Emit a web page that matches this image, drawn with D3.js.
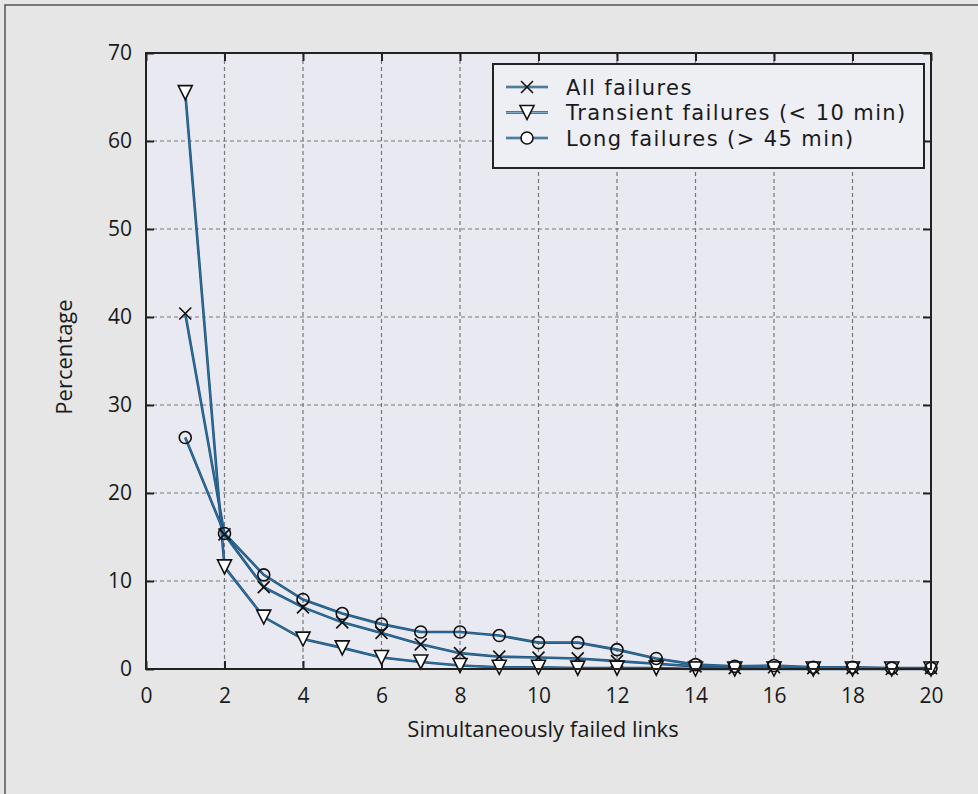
<!DOCTYPE html>
<html><head><meta charset="utf-8">
<script src="https://cdn.jsdelivr.net/npm/d3@7"></script>
<style>
html,body{margin:0;padding:0;background:#e6e6e6;}
svg{display:block;}
text{font-family:"Open Sans","Noto Sans",sans-serif;fill:#1a1a1a;}
</style></head>
<body>
<svg id="chart" width="978" height="794"></svg>
<script>
const xValues = [1,2,3,4,5,6,7,8,9,10,11,12,13,14,15,16,17,18,19,20];
const allFailures = [40.4,15.3,9.3,7.0,5.3,4.1,2.8,1.8,1.4,1.3,1.2,0.9,0.6,0.3,0.1,0.2,0.1,0.1,0.0,0.1];
const transientFailures = [65.5,11.6,5.9,3.4,2.4,1.3,0.8,0.4,0.2,0.2,0.1,0.1,0.1,0.0,0.0,0.0,0.0,0.0,0.0,0.0];
const longFailures = [26.3,15.4,10.7,7.9,6.3,5.1,4.2,4.2,3.8,3.0,3.0,2.2,1.2,0.5,0.3,0.4,0.2,0.2,0.1,0.1];
const seriesNames = ["All failures","Transient failures (< 10 min)","Long failures (> 45 min)"];
const xTicks = [0,2,4,6,8,10,12,14,16,18,20];
const yTicks = [0,10,20,30,40,50,60,70];
const xLabel = "Simultaneously failed links";
const yLabel = "Percentage";

const svg = d3.select("#chart");
const L=146, R=931, T=53, B=669;
const x = d3.scaleLinear().domain([0,20]).range([L,R]);
const y = d3.scaleLinear().domain([0,70]).range([B,T]);

// outer frame
svg.append("rect").attr("x",5).attr("y",5).attr("width",990).attr("height",800)
  .attr("fill","#e6e6e6").attr("stroke","#555").attr("stroke-width",1.5);
// plot bg
svg.append("rect").attr("x",L).attr("y",T).attr("width",R-L).attr("height",B-T).attr("fill","#e9e9f2");

// grid
const grid = svg.append("g").attr("stroke","#777").attr("stroke-width",1.2).attr("stroke-dasharray","4,3");
xTicks.filter(d=>d>0&&d<20).forEach(d=>grid.append("line").attr("x1",x(d)).attr("x2",x(d)).attr("y1",T).attr("y2",B));
yTicks.filter(d=>d>0&&d<70).forEach(d=>grid.append("line").attr("x1",L).attr("x2",R).attr("y1",y(d)).attr("y2",y(d)));

// axes
const gxB = svg.append("g").attr("transform",`translate(0,${B})`).call(d3.axisBottom(x).tickValues(xTicks).tickSizeInner(-8).tickSizeOuter(0).tickPadding(19));
const gxT = svg.append("g").attr("transform",`translate(0,${T})`).call(d3.axisTop(x).tickValues(xTicks).tickSizeInner(-8).tickSizeOuter(0).tickFormat(""));
const gyL = svg.append("g").attr("transform",`translate(${L},0)`).call(d3.axisLeft(y).tickValues(yTicks).tickSizeInner(-8).tickSizeOuter(0).tickPadding(14));
const gyR = svg.append("g").attr("transform",`translate(${R},0)`).call(d3.axisRight(y).tickValues(yTicks).tickSizeInner(-8).tickSizeOuter(0).tickFormat(""));
[gxB,gxT,gyL,gyR].forEach(g=>{
  g.attr("font-size",null).attr("font-family",null);
  g.select(".domain").remove();
  g.selectAll(".tick line").attr("stroke","#222").attr("stroke-width",2);
  g.selectAll(".tick text").style("font-size","21px").style("font-family","'Open Sans',sans-serif").attr("fill","#1a1a1a");
});

// series
const lineGen = d3.line().x((d,i)=>x(xValues[i])).y(d=>y(d));
const series = [allFailures, transientFailures, longFailures];
const lineColor = "#2f70a0";
const lines = svg.append("g");
series.forEach(s=>{
  lines.append("path").datum(s).attr("d",lineGen).attr("fill","none").attr("stroke","#1d4f74").attr("stroke-width",2.6);
  lines.append("path").datum(s).attr("d",lineGen).attr("fill","none").attr("stroke",lineColor).attr("stroke-width",1.3);
});

function marker(g, type, cx, cy){
  if(type===0){
    const s=6;
    g.append("path").attr("d",`M${cx-s},${cy-s}L${cx+s},${cy+s}M${cx-s},${cy+s}L${cx+s},${cy-s}`)
      .attr("stroke","#111").attr("stroke-width",1.6).attr("fill","none");
  } else if(type===1){
    const w=7, h=7;
    g.append("path").attr("d",`M${cx-w},${cy-h}L${cx+w},${cy-h}L${cx},${cy+h}Z`)
      .attr("stroke","#111").attr("stroke-width",1.6).attr("fill","#fff");
  } else {
    g.append("circle").attr("cx",cx).attr("cy",cy).attr("r",6)
      .attr("stroke","#111").attr("stroke-width",1.6).attr("fill","none");
  }
}
const marks = svg.append("g");
series.forEach((s,k)=>s.forEach((v,i)=>marker(marks,k,x(xValues[i]),y(v))));

// legend
const lg = svg.append("g");
lg.append("rect").attr("x",493).attr("y",64).attr("width",431).attr("height",104)
  .attr("fill","#eeeef5").attr("stroke","#222").attr("stroke-width",2);
seriesNames.forEach((n,k)=>{
  const cy = 87 + k*25.5;
  lg.append("line").attr("x1",506).attr("x2",548).attr("y1",cy).attr("y2",cy).attr("stroke","#1d4f74").attr("stroke-width",2.6);
  lg.append("line").attr("x1",506).attr("x2",548).attr("y1",cy).attr("y2",cy).attr("stroke","#7fa9c6").attr("stroke-width",1.2);
  if(k===2){
    lg.append("circle").attr("cx",527).attr("cy",cy).attr("r",6).attr("stroke","#111").attr("stroke-width",1.6).attr("fill","#fff");
  } else marker(lg,k,527,cy);
  lg.append("text").attr("x",566).attr("y",cy).attr("dy","0.36em")
    .style("font-family","'DejaVu Sans',sans-serif").style("font-size","21px").style("letter-spacing","1.4px").text(n);
});

// border
svg.append("rect").attr("x",L).attr("y",T).attr("width",R-L).attr("height",B-T)
  .attr("fill","none").attr("stroke","#222").attr("stroke-width",2);

// labels
svg.append("text").attr("x",543).attr("y",729).attr("dy","0.36em").attr("text-anchor","middle").style("font-size","22px").text(xLabel);
svg.append("text").attr("transform",`translate(64,357) rotate(-90)`).attr("dy","0.36em").attr("text-anchor","middle").style("font-size","22px").text(yLabel);
</script>
</body></html>
